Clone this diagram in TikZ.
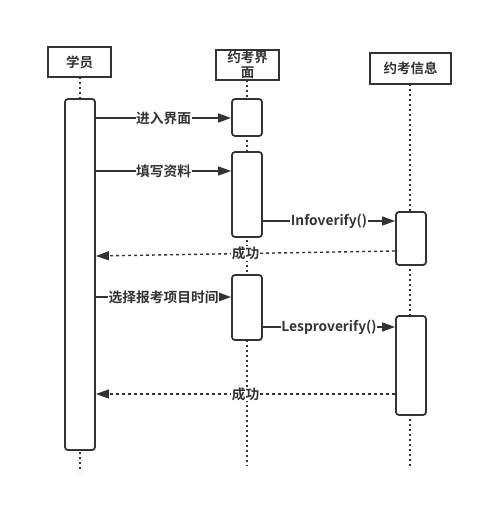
\documentclass[tikz,border=0pt]{standalone}
\usepackage{fontspec}
\setmainfont{Noto Sans CJK SC}[BoldFont={Noto Sans CJK SC Bold}]
\usetikzlibrary{arrows.meta}
\definecolor{ink}{HTML}{333333}
\tikzset{
  x=1pt,y=-1pt,
  headbox/.style={draw=ink,line width=2pt,fill=white,inner sep=0pt,font=\bfseries\fontsize{13.5}{15}\selectfont,text=ink,align=center},
  actbox/.style={draw=ink,line width=1.8pt,rounded corners=3pt,fill=white,inner sep=0pt},
  lifeline/.style={draw=ink,line width=2pt,dash pattern=on 2pt off 3pt},
  msg/.style={draw=ink,line width=1.6pt,-{Triangle[length=13pt,width=9pt]}},
  ret/.style={draw=ink,line width=1.4pt,dash pattern=on 3pt off 3pt,-{Triangle[length=13pt,width=9pt]}},
  lbl/.style={fill=white,inner sep=0.5pt,text=ink,font=\bfseries\fontsize{13.75}{15}\selectfont},
}
\begin{document}
\begin{tikzpicture}
\useasboundingbox (0,0) rectangle (483,505);
% lifelines
\coordinate (l1top) at (80,77);
\coordinate (l1bot) at (80,472);
\coordinate (l2top) at (247,80);
\coordinate (l2bot) at (247,466);
\coordinate (l3top) at (410,84);
\coordinate (l3bot) at (410,469);
\draw[lifeline] (l1top) -- (l1bot);
\draw[lifeline] (l2top) -- (l2bot);
\draw[lifeline] (l3top) -- (l3bot);
% headers
\node[headbox,minimum width=63pt,minimum height=30pt] (h1) at (79.5,62) {学员};
\node[headbox,minimum width=63pt,minimum height=30pt] (h2) at (247.5,65) {};
\node[lbl,fill=none,align=center,font=\bfseries\fontsize{13.5}{15.5}\selectfont] (h2t) at (247.5,65) {约考界\\面};
\node[headbox,minimum width=81pt,minimum height=31pt] (h3) at (410.5,68.5) {约考信息};
% activations
\node[actbox,minimum width=30pt,minimum height=351pt] (a1) at (80,274.5) {};
\node[actbox,minimum width=30pt,minimum height=37pt] (b1) at (247,117.5) {};
\node[actbox,minimum width=30pt,minimum height=85pt] (b2) at (247,194.5) {};
\node[actbox,minimum width=30pt,minimum height=65pt] (b3) at (247,307.5) {};
\node[actbox,minimum width=30pt,minimum height=53pt] (c1) at (411,238.5) {};
\node[actbox,minimum width=30pt,minimum height=99pt] (c2) at (411,365.5) {};
% messages
\draw[msg] (a1.east |- 0,118) -- node[lbl] {进入界面} (b1.west |- 0,118);
\draw[msg] (a1.east |- 0,171) -- node[lbl] {填写资料} (b2.west |- 0,171);
\draw[msg] (b2.east |- 0,221) -- node[lbl] {Infoverify()} (c1.west |- 0,221);
\draw[ret] (c1.west |- 0,251) -- node[lbl] {成功} (a1.east |- 0,256);
\draw[msg] (a1.east |- 0,297) -- node[lbl] {选择报考项目时间} (b3.west |- 0,297);
\draw[msg] (b3.east |- 0,327) -- node[lbl] {Lesproverify()} (c2.west |- 0,327);
\draw[ret] (c2.west |- 0,394) -- node[lbl] {成功} (a1.east |- 0,394);
\end{tikzpicture}
\end{document}
